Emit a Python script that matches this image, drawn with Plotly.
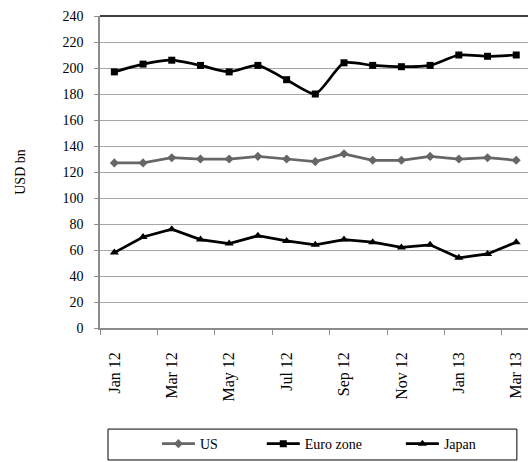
import plotly.graph_objects as go

months = ["Jan 12", "Feb 12", "Mar 12", "Apr 12", "May 12", "Jun 12", "Jul 12", "Aug 12",
          "Sep 12", "Oct 12", "Nov 12", "Dec 12", "Jan 13", "Feb 13", "Mar 13"]
us = [127, 127, 131, 130, 130, 132, 130, 128, 134, 129, 129, 132, 130, 131, 129]
euro = [197, 203, 206, 202, 197, 202, 191, 180, 204, 202, 201, 202, 210, 209, 210]
japan = [58, 70, 76, 68, 65, 71, 67, 64, 68, 66, 62, 64, 54, 57, 66]

FONT = "Liberation Serif"

fig = go.Figure()
fig.add_trace(go.Scatter(x=months, y=us, name="US", mode="lines+markers", legend="legend",
                         line=dict(color="#666666", width=2.75),
                         marker=dict(symbol="diamond", size=7, color="#666666")))
fig.add_trace(go.Scatter(x=months, y=euro, name="Euro zone", mode="lines+markers", legend="legend2",
                         line=dict(color="#000000", width=2.75, shape="spline", smoothing=0.6),
                         marker=dict(symbol="square", size=7, color="#000000")))
fig.add_trace(go.Scatter(x=months, y=japan, name="Japan", mode="lines+markers", legend="legend3",
                         line=dict(color="#000000", width=2.75),
                         marker=dict(symbol="triangle-up", size=8, color="#000000")))

leg_common = dict(orientation="h", y=-0.372, yanchor="middle", xanchor="left",
                  bgcolor="rgba(0,0,0,0)", borderwidth=0,
                  font=dict(size=14, family=FONT, color="black"), itemwidth=33)

fig.update_layout(
    width=528, height=462,
    margin=dict(l=100, r=0, t=15.5, b=133.5, autoexpand=False),
    paper_bgcolor="white", plot_bgcolor="white",
    font=dict(family=FONT, size=13, color="black"),
    showlegend=True,
    legend=dict(x=0.133, **leg_common),
    legend2=dict(x=0.378, **leg_common),
    legend3=dict(x=0.703, **leg_common),
    shapes=[
        dict(type="line", xref="paper", yref="paper", x0=0, x1=1, y0=1, y1=1,
             line=dict(color="black", width=1.5)),
        dict(type="rect", xref="paper", yref="paper", x0=0.0187, x1=0.974, y0=-0.423, y1=-0.324,
             line=dict(color="black", width=1), fillcolor="rgba(0,0,0,0)"),
    ],
)
fig.update_xaxes(type="category", range=[-0.5, 14.41], tickmode="linear", tick0=0, dtick=2,
                 tickson="boundaries", ticks="outside", ticklen=5, tickcolor="#8c8c8c",
                 showline=True, linecolor="#8c8c8c", linewidth=1.5, showgrid=False,
                 automargin=False,
                 tickangle=-90, tickfont=dict(size=16, family=FONT), ticklabelstandoff=16)
fig.update_yaxes(range=[0, 240], tickmode="linear", tick0=0, dtick=20,
                 ticks="outside", ticklen=4, tickcolor="#8c8c8c",
                 showline=True, linecolor="#8c8c8c", linewidth=1.5,
                 showgrid=True, gridcolor="#a6a6a6", gridwidth=1, zeroline=False,
                 automargin=False,
                 tickfont=dict(size=14, family=FONT), ticklabelstandoff=8,
                 title=dict(text="USD bn", font=dict(size=14, family=FONT), standoff=34))

fig.write_html("out.html", config={"displayModeBar": False},
               post_script="document.body.style.margin='0';document.body.style.overflow='hidden';")
